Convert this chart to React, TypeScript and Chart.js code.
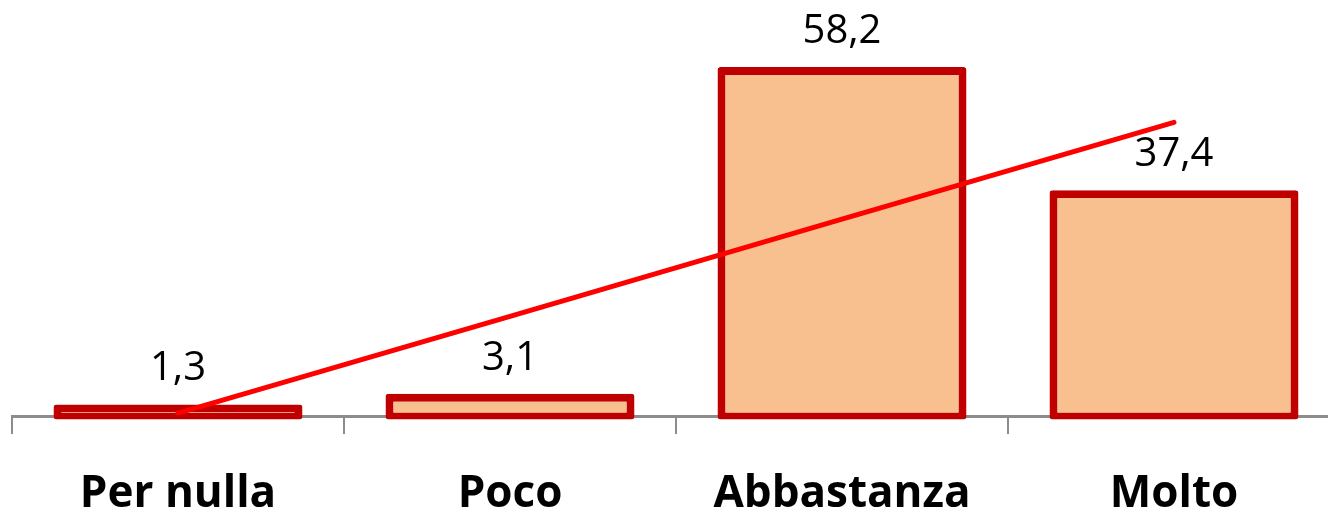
import React, { useEffect, useRef } from "react";
import { Chart, registerables } from "chart.js";

Chart.register(...registerables);

const categories = ["Per nulla", "Poco", "Abbastanza", "Molto"];
const values = [1.3, 3.1, 58.2, 37.4];
const trendValues = [0.5, 16.8, 33.2, 49.5];

const FONT = "'Open Sans', 'Noto Sans', sans-serif";

// Value axis: 0..69.8 over the plot height. The bar axis is the same scale
// lifted by about half a border width, so the thick outline sits on the value
// and the bars reach a little under the category axis line.
const LIFT = 0.65;
const BAR_BASE = -1.25;
const Y_MAX = 69.8;

// Writes each bar's value (Italian decimal comma) above the bar
const valueLabels = {
  id: "valueLabels",
  afterDatasetsDraw(chart: any) {
    const meta = chart.getDatasetMeta(1);
    const ctx = chart.ctx;
    ctx.save();
    ctx.font = `400 40px ${FONT}`;
    ctx.fillStyle = "#000000";
    ctx.textAlign = "center";
    ctx.textBaseline = "alphabetic";
    meta.data.forEach((bar: any, i: number) => {
      const text = values[i].toFixed(1).replace(".", ",");
      ctx.fillText(text, bar.x, bar.y - 24);
    });
    ctx.restore();
  },
};

export default function App() {
  const ref = useRef<HTMLCanvasElement | null>(null);

  useEffect(() => {
    if (!ref.current) return;
    const chart = new Chart(ref.current, {
      type: "bar",
      data: {
        labels: categories,
        datasets: [
          {
            type: "line",
            data: trendValues,
            yAxisID: "yTrend",
            borderColor: "#FF0000",
            borderWidth: 5,
            borderCapStyle: "round",
            pointRadius: 0,
            fill: false,
            order: 0,
          } as any,
          {
            type: "bar",
            data: values,
            yAxisID: "y",
            base: BAR_BASE,
            clip: false,
            backgroundColor: "#F9C08F",
            borderColor: "#C00000",
            borderWidth: { top: 8, left: 8, right: 8, bottom: 7 },
            borderSkipped: false,
            borderRadius: 3,
            barPercentage: 0.75,
            categoryPercentage: 1,
            order: 1,
          },
        ],
      },
      options: {
        responsive: false,
        animation: false,
        layout: { padding: { left: 12, right: 4, top: 2, bottom: 0 } },
        plugins: {
          legend: { display: false },
          tooltip: { enabled: false },
        },
        scales: {
          x: {
            z: 1,
            grid: {
              display: true,
              drawOnChartArea: false,
              drawTicks: true,
              tickLength: 18,
              color: "#8C8C8C",
              lineWidth: 2,
              offset: true,
            },
            border: { display: true, color: "#8C8C8C", width: 3 },
            ticks: {
              color: "#000000",
              font: { family: FONT, size: 44, weight: "bold" },
              padding: 34,
              maxRotation: 0,
              autoSkip: false,
            },
            afterFit(scale: any) {
              scale.height = 102;
            },
          },
          y: {
            display: false,
            min: -LIFT,
            max: Y_MAX - LIFT,
          },
          yTrend: {
            display: false,
            min: 0,
            max: Y_MAX,
          },
        },
      },
      plugins: [valueLabels],
    });
    return () => chart.destroy();
  }, []);

  return (
    <div
      style={{
        position: "fixed",
        left: 0,
        top: 0,
        width: 1328,
        height: 518,
        overflow: "hidden",
        background: "#ffffff",
      }}
    >
      <canvas ref={ref} width={1344} height={518} style={{ width: 1344, height: 518, display: "block" }} />
    </div>
  );
}
